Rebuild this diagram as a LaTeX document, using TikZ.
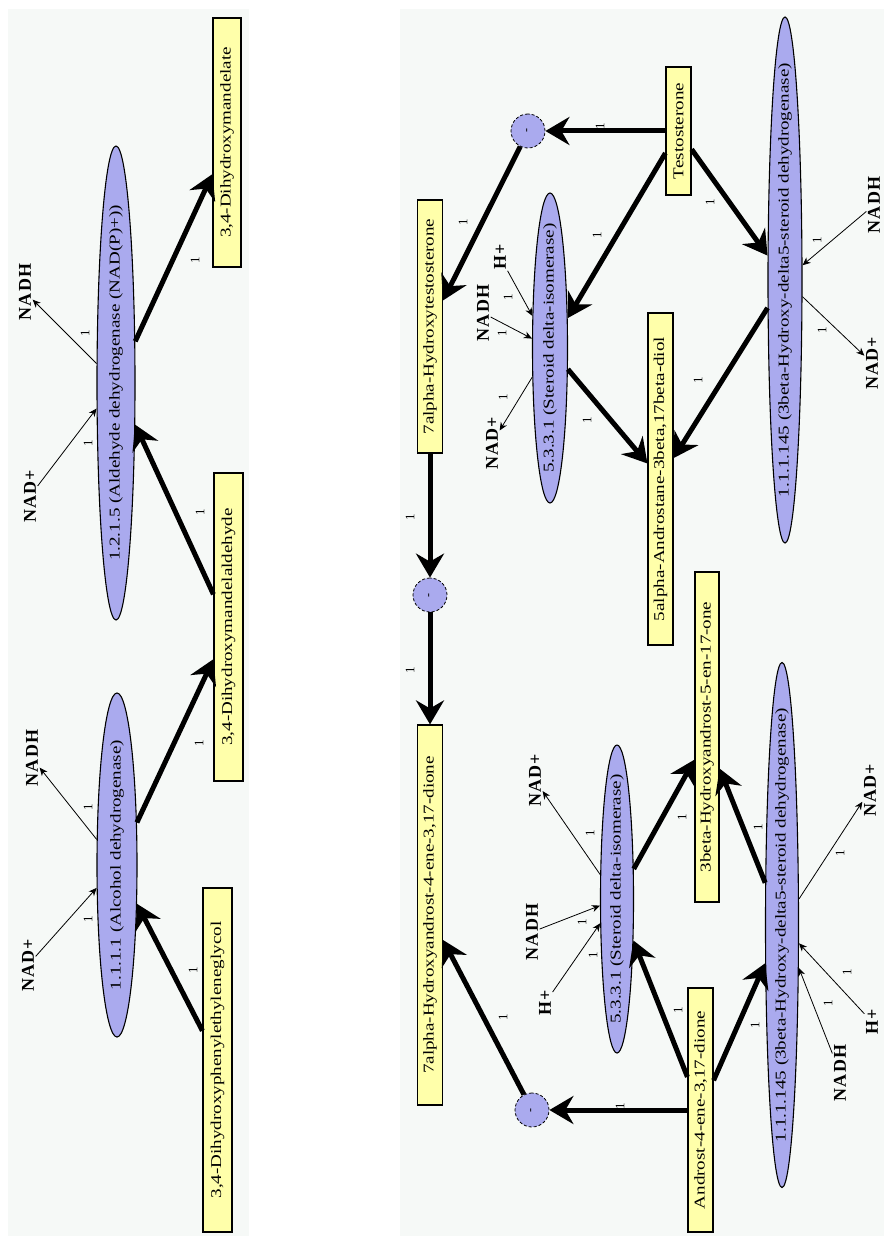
\documentclass[tikz,border=0pt]{standalone}
\usepackage{fontspec}
\setmainfont{Liberation Serif}
\newfontfamily\namefont[FakeStretch=1.27]{Liberation Serif}
\newfontfamily\cofont[LetterSpace=6]{Liberation Serif}
\usetikzlibrary{arrows.meta,shapes.geometric}

\definecolor{panelbg}{RGB}{246,249,247}
\definecolor{enzfill}{RGB}{170,170,238}
\definecolor{cpdfill}{RGB}{255,255,170}

\begin{document}
\begin{tikzpicture}[x=1pt,y=-1pt,
  cpd/.style={draw=black, line width=1.2pt, fill=cpdfill, rotate=90, inner sep=0pt,
    font=\namefont\fontsize{15}{15}\selectfont},
  enz/.style={ellipse, draw=black, line width=1.1pt, fill=enzfill, rotate=90,
    inner xsep=-90pt, inner ysep=0pt,
    font=\namefont\fontsize{15}{15}\selectfont},
  gate/.style={circle, draw=black, line width=0.8pt, dash pattern=on 3pt off 2pt,
    fill=enzfill, minimum size=34pt, inner sep=0pt, rotate=90,
    font=\fontsize{12}{12}\selectfont},
  cof/.style={rotate=90, inner sep=1.5pt, font=\cofont\bfseries\fontsize{18}{18}\selectfont},
  num/.style={rotate=90, inner sep=0pt, font=\fontsize{13}{13}\selectfont},
  flux/.style={line width=5pt, -{Stealth[length=24pt,width=28pt,inset=8pt]}},
  side/.style={line width=0.8pt, -{Stealth[length=8pt,width=7pt,inset=2.5pt]}},
]
\useasboundingbox (0,0) rectangle (884,1236);
\fill[white] (0,0) rectangle (884,1236);
\fill[panelbg] (8,9) rectangle (249,1236);
\fill[panelbg] (400,9) rectangle (884,1236);

% ---------- left pathway ----------
\node[enz, minimum width=474pt, minimum height=38pt] (aldh) at (116,383) {1.2.1.5 (Aldehyde dehydrogenase (NAD(P)+))};
\node[enz, minimum width=344pt, minimum height=40pt] (adh) at (117,865) {1.1.1.1 (Alcohol dehydrogenase)};
\node[cpd, minimum width=249pt, minimum height=28pt] (mandelate) at (227,142.5) {3,4-Dihydroxymandelate};
\node[cpd, minimum width=308pt, minimum height=29pt] (mald) at (228.5,627) {3,4-Dihydroxymandelaldehyde};
\node[cpd, minimum width=344pt, minimum height=29pt] (glycol) at (217.5,1060) {3,4-Dihydroxyphenylethyleneglycol};

\node[cof] (nadpA) at (30,496) {NAD+};
\node[cof] (nadhA) at (25,292) {NADH};
\node[cof] (nadpB) at (28,965) {NAD+};
\node[cof] (nadhB) at (32,758) {NADH};

\draw[flux] (glycol) -- (adh);
\draw[flux] (adh) -- (mald);
\draw[flux] (mald) -- (aldh);
\draw[flux] (aldh) -- (mandelate);
\draw[side] (nadpA) -- (aldh);
\draw[side] (aldh) -- (nadhA);
\draw[side] (nadpB) -- (adh);
\draw[side] (adh) -- (nadhB);

\node[num] (nA1) at (193,970) {1};
\node[num] (nA2) at (199,743) {1};
\node[num] (nA3) at (200,512) {1};
\node[num] (nA4) at (195,260) {1};
\node[num] (nA5) at (88,443) {1};
\node[num] (nA6) at (85,333) {1};
\node[num] (nA7) at (88,919) {1};
\node[num] (nA8) at (88,807) {1};

% ---------- right pathway ----------
\node[enz, minimum width=310pt, minimum height=35pt] (isoT) at (550,348) {5.3.3.1 (Steroid delta-isomerase)};
\node[enz, minimum width=526pt, minimum height=34pt] (hsdT) at (785,280) {1.1.1.145 (3beta-Hydroxy-delta5-steroid dehydrogenase)};
\node[enz, minimum width=308pt, minimum height=33pt] (isoB) at (617,899) {5.3.3.1 (Steroid delta-isomerase)};
\node[enz, minimum width=525pt, minimum height=33pt] (hsdB) at (782,925) {1.1.1.145 (3beta-Hydroxy-delta5-steroid dehydrogenase)};

\node[cpd, minimum width=128pt, minimum height=25pt] (testo) at (678.5,131) {Testosterone};
\node[cpd, minimum width=253pt, minimum height=25pt] (hydtesto) at (430,326.5) {7alpha-Hydroxytestosterone};
\node[cpd, minimum width=332pt, minimum height=25pt] (diol) at (660.5,479) {5alpha-Androstane-3beta,17beta-diol};
\node[cpd, minimum width=380pt, minimum height=25pt] (hyddione) at (430,915) {7alpha-Hydroxyandrost-4-ene-3,17-dione};
\node[cpd, minimum width=330pt, minimum height=24pt] (dhea) at (707,737) {3beta-Hydroxyandrost-5-en-17-one};
\node[cpd, minimum width=244pt, minimum height=25pt] (dione) at (700.5,1110) {Androst-4-ene-3,17-dione};

\node[gate] (gA) at (528,131) {-};
\node[gate] (gB) at (430,595) {-};
\node[gate] (gC) at (532,1110) {-};

\node[cof] (hpT) at (500,257) {H+};
\node[cof] (nadhT) at (483,313) {NADH};
\node[cof] (nadpT) at (492,443) {NAD+};
\node[cof] (nadhU) at (874,205) {NADH};
\node[cof] (nadpU) at (872,363) {NAD+};
\node[cof] (nadpV) at (870,790) {NAD+};
\node[cof] (hpV) at (872,1022) {H+};
\node[cof] (nadhV) at (840,1073) {NADH};
\node[cof] (hpW) at (545,1003) {H+};
\node[cof] (nadhW) at (532,932) {NADH};
\node[cof] (nadpW) at (535,780) {NAD+};

\draw[flux] (testo) -- (gA);
\draw[flux] (gA) -- (hydtesto);
\draw[flux] (testo) -- (isoT);
\draw[flux] (testo) -- (hsdT);
\draw[flux] (isoT) -- (diol);
\draw[flux] (hsdT) -- (diol);
\draw[flux] (hydtesto) -- (gB);
\draw[flux] (gB) -- (hyddione);
\draw[flux] (dione) -- (gC);
\draw[flux] (gC) -- (hyddione);
\draw[flux] (dione) -- (isoB);
\draw[flux] (dione) -- (hsdB);
\draw[flux] (isoB) -- (dhea);
\draw[flux] (hsdB) -- (dhea);

\draw[side] (hpT) -- (isoT);
\draw[side] (nadhT) -- (isoT);
\draw[side] (isoT) -- (nadpT);
\draw[side] (nadhU) -- (hsdT);
\draw[side] (hsdT) -- (nadpU);
\draw[side] (hsdB) -- (nadpV);
\draw[side] (hpV) -- (hsdB);
\draw[side] (nadhV) -- (hsdB);
\draw[side] (hpW) -- (isoB);
\draw[side] (nadhW) -- (isoB);
\draw[side] (isoB) -- (nadpW);

\node[num] (nB1) at (600,126) {1};
\node[num] (nB2) at (463,222) {1};
\node[num] (nB3) at (597,235) {1};
\node[num] (nB4) at (710,202) {1};
\node[num] (nB5) at (508,297) {1};
\node[num] (nB6) at (502,333) {1};
\node[num] (nB7) at (503,397) {1};
\node[num] (nB8) at (587,420) {1};
\node[num] (nB9) at (817,240) {1};
\node[num] (nB10) at (822,330) {1};
\node[num] (nB11) at (698,380) {1};
\node[num] (nB12) at (410,517) {1};
\node[num] (nB13) at (410,670) {1};
\node[num] (nB14) at (620,1106) {1};
\node[num] (nB15) at (503,1017) {1};
\node[num] (nB16) at (678,1010) {1};
\node[num] (nB17) at (755,1025) {1};
\node[num] (nB18) at (682,817) {1};
\node[num] (nB19) at (758,827) {1};
\node[num] (nB20) at (840,853) {1};
\node[num] (nB21) at (847,972) {1};
\node[num] (nB22) at (828,1003) {1};
\node[num] (nB23) at (593,955) {1};
\node[num] (nB24) at (582,922) {1};
\node[num] (nB25) at (590,833) {1};
\end{tikzpicture}
\end{document}
